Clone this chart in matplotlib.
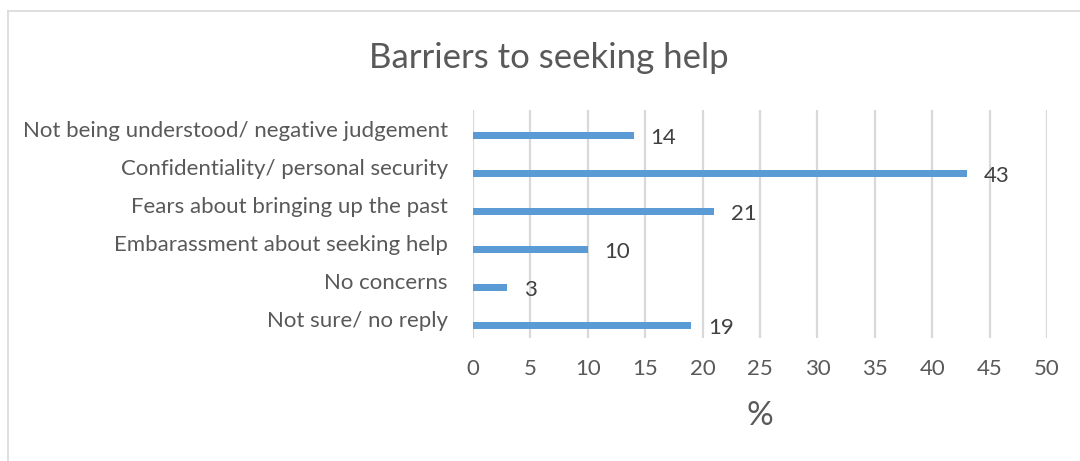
import matplotlib.pyplot as plt
from matplotlib.lines import Line2D

plt.rcParams['font.family'] = ['Lato', 'DejaVu Sans']

categories = [
    "Not being understood/ negative judgement",
    "Confidentiality/ personal security",
    "Fears about bringing up the past",
    "Embarassment about seeking help",
    "No concerns",
    "Not sure/ no reply",
]
percent = [14, 43, 21, 10, 3, 19]
x_ticks = list(range(0, 55, 5))

BAR_BLUE = "#5B9BD5"
GRID = "#D9D9D9"
TEXT = "#595959"

fig = plt.figure(figsize=(10.8, 4.61), dpi=100)
ax = fig.add_axes([473 / 1080, 1 - 338 / 461, 574 / 1080, 228 / 461])

# bars sit a little below the middle of each category band
ypos = [i + 0.18 for i in range(len(categories))]
ax.barh(ypos, percent, height=0.19, color=BAR_BLUE, zorder=3)
for y, v in zip(ypos, percent):
    ax.annotate(str(v), (v, y), xytext=(12, -1.5), textcoords="offset points",
                ha="left", va="center", fontsize=16, color="#404040")

ax.set_xlim(0, 50)
ax.set_ylim(len(categories) - 0.5, -0.5)
ax.set_yticks(range(len(categories)))
ax.set_yticklabels(categories)
ax.set_xticks(x_ticks)
ax.tick_params(axis="both", length=0, labelsize=16, labelcolor=TEXT)
ax.tick_params(axis="x", pad=15)
ax.tick_params(axis="y", pad=18)
ax.grid(axis="x", color=GRID, linewidth=1.6, zorder=0)
for s in ax.spines.values():
    s.set_visible(False)

ax.set_xlabel("%", fontsize=24, color=TEXT, labelpad=16)
fig.text(549 / 1080, 1 - 58 / 461, "Barriers to seeking help", fontsize=25,
         color=TEXT, ha="center", va="center")

# chart frame, running off the right and bottom edges
fig.add_artist(Line2D([8 / 1080, 1], [1 - 11 / 461, 1 - 11 / 461],
                      color=GRID, linewidth=1.2, transform=fig.transFigure))
fig.add_artist(Line2D([8 / 1080, 8 / 1080], [0, 1 - 11 / 461],
                      color=GRID, linewidth=1.2, transform=fig.transFigure))

fig.savefig("out.png", dpi=100, facecolor="white")
